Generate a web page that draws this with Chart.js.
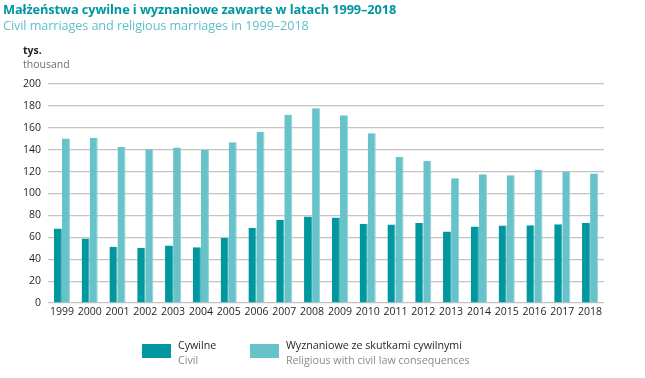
<!DOCTYPE html>
<html>
<head>
<meta charset="utf-8">
<script src="https://cdn.jsdelivr.net/npm/chart.js@4"></script>
<style>
  html, body { margin:0; padding:0; background:#fff; }
  body { width:645px; height:378px; position:relative; overflow:hidden; font-family:"Open Sans", "Noto Sans", sans-serif; }
  #wrap { position:absolute; left:0; top:0; width:645px; height:378px; }
  .t { position:absolute; white-space:nowrap; }
  #title { left:3px; top:0px; font-size:12.8px; font-weight:700; color:#0096a0; letter-spacing:-0.1px; }
  #sub { left:3px; top:16px; font-size:12.7px; color:#5fc0c8; letter-spacing:-0.1px; }
  #unit1 { left:23px; top:43px; font-size:10.5px; font-weight:700; color:#231f20; }
  #unit2 { left:23px; top:57px; font-size:10.5px; color:#6d6e71; }
  .sw { position:absolute; width:29px; height:14px; }
  .l1 { font-size:10.7px; color:#231f20; }
  .l2 { font-size:10.7px; color:#8a8a8a; }
</style>
</head>
<body>
<div id="wrap"><canvas id="c" width="645" height="378"></canvas></div>
<div class="t" id="title">Małżeństwa cywilne i wyznaniowe zawarte w latach 1999–2018</div>
<div class="t" id="sub">Civil marriages and religious marriages in 1999–2018</div>
<div class="t" id="unit1">tys.</div>
<div class="t" id="unit2">thousand</div>
<div class="sw" style="left:142px;top:344px;background:#00979f"></div>
<div class="t l1" style="left:178px;top:338px">Cywilne</div>
<div class="t l2" style="left:178px;top:353px">Civil</div>
<div class="sw" style="left:250px;top:344px;background:#67c3c9"></div>
<div class="t l1" style="left:286px;top:338px">Wyznaniowe ze skutkami cywilnymi</div>
<div class="t l2" style="left:286px;top:353px">Religious with civil law consequences</div>
<script>
const years = ["1999","2000","2001","2002","2003","2004","2005","2006","2007","2008","2009","2010","2011","2012","2013","2014","2015","2016","2017","2018"];
const civil = [68.1, 59.0, 51.4, 50.5, 52.6, 51.0, 59.3, 68.4, 75.7, 79.0, 78.1, 72.3, 71.7, 73.0, 65.3, 69.9, 70.8, 71.1, 72.0, 73.0];
const religious = [150.2, 151.0, 142.5, 140.4, 142.0, 139.8, 146.8, 156.5, 172.0, 177.8, 171.4, 155.0, 133.4, 129.8, 114.0, 117.6, 116.7, 121.6, 119.8, 118.2];
const yTicks = [0, 20, 40, 60, 80, 100, 120, 140, 160, 180, 200];

new Chart(document.getElementById('c'), {
  type: 'bar',
  data: {
    labels: years,
    datasets: [
      { label: 'Cywilne', data: civil, backgroundColor: '#00979f', borderColor: '#2aa9b0', borderWidth: {right:1, top:0, left:0, bottom:0}, borderSkipped: false, categoryPercentage: 0.58, barPercentage: 1.0 },
      { label: 'Wyznaniowe ze skutkami cywilnymi', data: religious, backgroundColor: '#67c3c9', borderColor: '#8fd4d8', borderWidth: {right:1, top:0, left:0, bottom:0}, borderSkipped: false, categoryPercentage: 0.58, barPercentage: 1.0 }
    ]
  },
  options: {
    responsive: false,
    animation: false,
    events: [],
    layout: { padding: { left: 0, right: 41, top: 84, bottom: 0 } },
    plugins: { legend: { display: false }, tooltip: { enabled: false } },
    scales: {
      x: {
        grid: { display: false, drawTicks: false },
        border: { display: false },
        ticks: { color: '#231f20', font: { family: '"Open Sans", "Noto Sans", sans-serif', size: 10.5 }, padding: 3, maxRotation: 0, autoSkip: false },
        afterFit: s => { s.height = 75; }
      },
      y: {
        min: 0, max: 200,
        afterBuildTicks: s => { s.ticks = yTicks.map(v => ({ value: v })); },
        grid: { color: '#c4c4c4', lineWidth: 1.2, drawTicks: false },
        border: { display: false },
        ticks: { color: '#231f20', font: { family: '"Open Sans", "Noto Sans", sans-serif', size: 10.5 }, padding: 7 },
        afterFit: s => { s.width = 48; }
      }
    }
  }
});
</script>
</body>
</html>
